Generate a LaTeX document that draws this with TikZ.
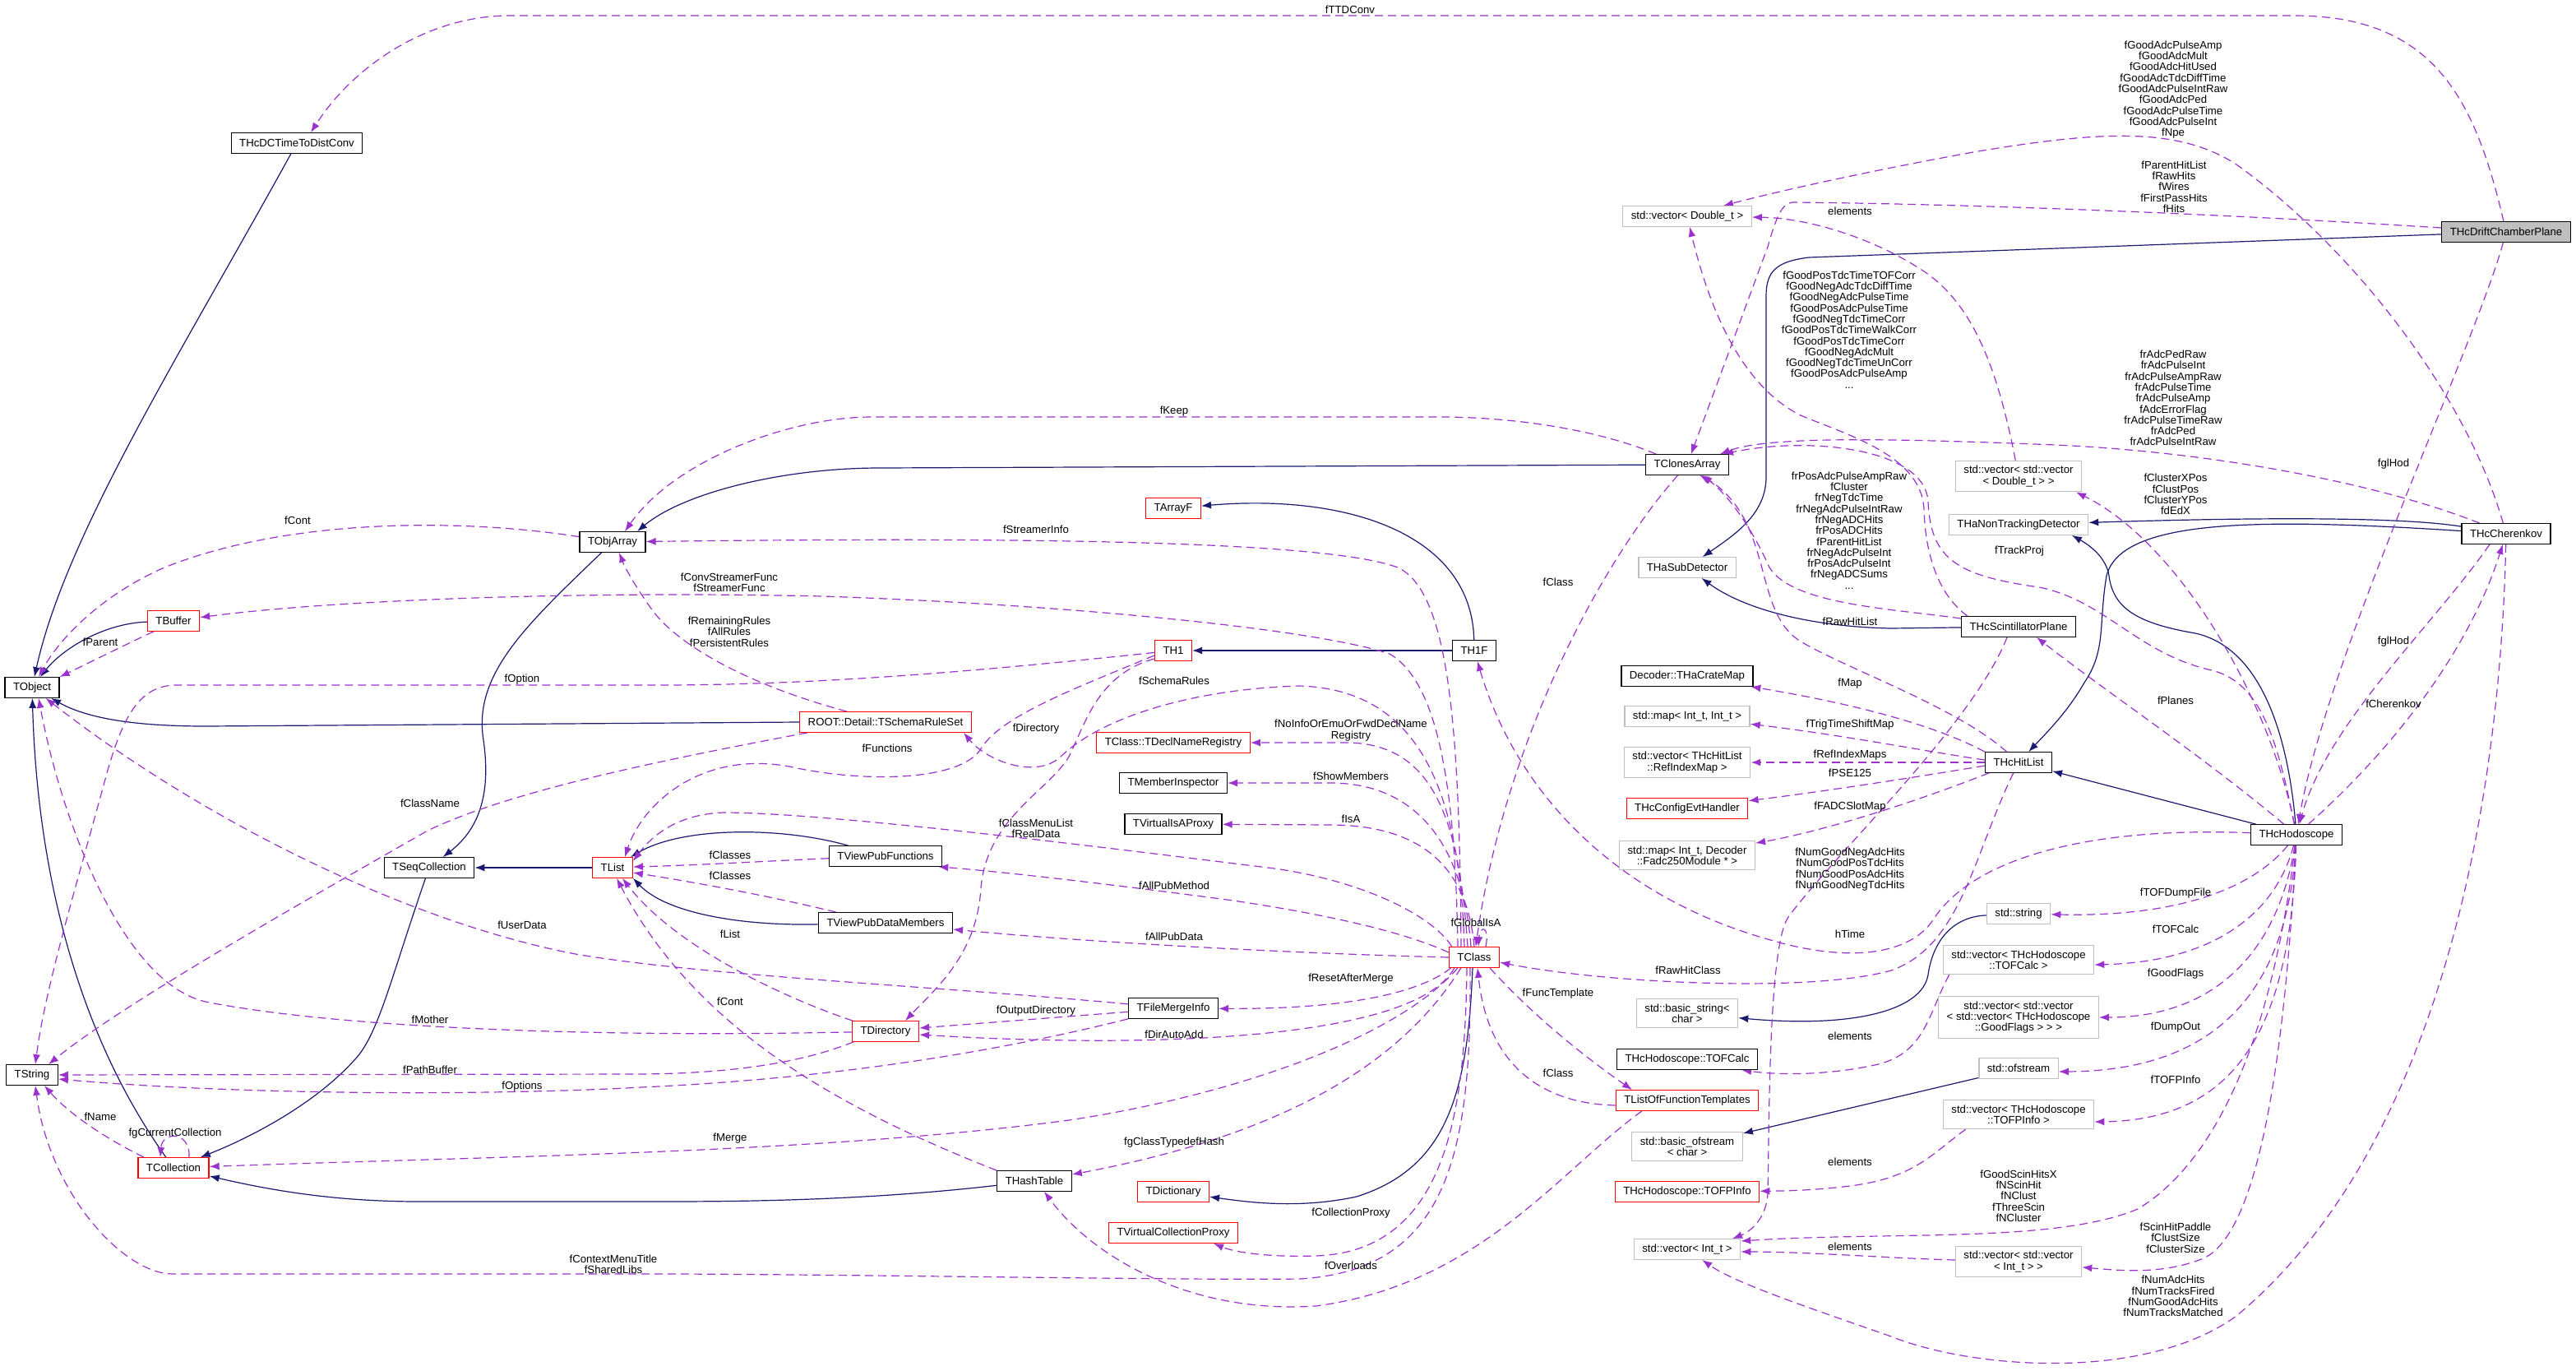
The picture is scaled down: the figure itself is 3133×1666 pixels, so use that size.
\documentclass[tikz,border=0pt]{standalone}
\usepackage{fontspec}
\setmainfont{Liberation Sans}
\usetikzlibrary{arrows.meta}
\pgfdeclarelayer{bglayer}
\pgfdeclarelayer{edgelayer}
\pgfsetlayers{bglayer,edgelayer,main}
\definecolor{edgeblue}{HTML}{191970}
\definecolor{edgepurple}{HTML}{9A32CD}
\definecolor{boxgray}{HTML}{BFBFBF}
\begin{document}
\begin{tikzpicture}[x=1pt,y=-1pt,
  box/.style={draw, line width=1.3pt, fill=white, inner xsep=10pt, inner ysep=6pt, minimum height=24.5pt, align=center, font=\fontsize{13.2}{13.3}\selectfont},
  bbox/.style={box, draw=black},
  rbox/.style={box, draw=red},
  gbox/.style={box, draw=boxgray},
  inhedge/.style={draw=edgeblue, line width=1.2pt, -{Latex[length=12pt,width=9pt]}},
  useedge/.style={draw=edgepurple, line width=1.2pt, dash pattern=on 10pt off 6pt, -{Latex[length=12pt,width=9pt]}},
  lbl/.style={align=center, inner sep=0pt, font=\fontsize{13.2}{13.3}\selectfont}]
\begin{pgfonlayer}{bglayer}
\fill[white] (0,0) rectangle (3133,1666);
\end{pgfonlayer}
\useasboundingbox (0,0) rectangle (3133,1666);

% ---------------- nodes ----------------
\node[bbox] (dcconv) at (361,174) {THcDCTimeToDistConv};
\node[bbox] (tobject) at (39,836) {TObject};
\node[rbox] (tbuffer) at (211,755) {TBuffer};
\node[bbox] (tobjarray) at (745,659) {TObjArray};
\node[bbox] (tseqcoll) at (522,1055) {TSeqCollection};
\node[rbox] (tlist) at (745,1055) {TList};
\node[rbox] (tarrayf) at (1427,618) {TArrayF};
\node[rbox] (th1) at (1427,791) {TH1};
\node[rbox] (schema) at (1077,878) {ROOT::Detail::TSchemaRuleSet};
\node[rbox] (declreg) at (1427,903) {TClass::TDeclNameRegistry};
\node[bbox] (meminsp) at (1427,952) {TMemberInspector};
\node[bbox] (isaproxy) at (1427,1002) {TVirtualIsAProxy};
\node[bbox] (vpubfunc) at (1077,1041) {TViewPubFunctions};
\node[bbox] (vpubdm) at (1077,1122) {TViewPubDataMembers};
\node[gbox] (vecdbl) at (2052,263) {std::vector< Double\_t >};
\node[bbox] (tclones) at (2052,565) {TClonesArray};
\node[gbox] (thasub) at (2052,690) {THaSubDetector};
\node[bbox] (th1f) at (1793,791) {TH1F};
\node[bbox] (cratemap) at (2052,822) {Decoder::THaCrateMap};
\node[gbox] (mapii) at (2052,871) {std::map< Int\_t, Int\_t >};
\node[gbox] (vecref) at (2052,927) {std::vector< THcHitList\\::RefIndexMap >};
\node[rbox] (cfgevt) at (2052,983) {THcConfigEvtHandler};
\node[gbox] (mapfadc) at (2052,1040) {std::map< Int\_t, Decoder\\::Fadc250Module * >};
\node[rbox] (tclass) at (1793,1164) {TClass};
\node[gbox] (bstring) at (2052,1232) {std::basic\_string<\\char >};
\node[bbox] (tofcalc) at (2052,1288) {THcHodoscope::TOFCalc};
\node[rbox] (tlistft) at (2052,1338) {TListOfFunctionTemplates};
\node[gbox] (bofstream) at (2052,1394) {std::basic\_ofstream\\< char >};
\node[rbox] (tofpinfo) at (2052,1449) {THcHodoscope::TOFPInfo};
\node[gbox] (vecint) at (2052,1519) {std::vector< Int\_t >};
\node[rbox] (tdirectory) at (1077,1254) {TDirectory};
\node[bbox] (tfmi) at (1427,1226) {TFileMergeInfo};
\node[bbox] (thash) at (1258,1436) {THashTable};
\node[rbox] (tdict) at (1427,1449) {TDictionary};
\node[rbox] (tvcp) at (1427,1499) {TVirtualCollectionProxy};
\node[bbox] (tstring) at (39,1307) {TString};
\node[rbox] (tcoll) at (211,1420) {TCollection};
\node[bbox, fill=boxgray] (dcplane) at (3048,282) {THcDriftChamberPlane};
\node[gbox] (vecvecdbl) at (2455,579) {std::vector< std::vector\\< Double\_t > >};
\node[gbox] (thanontrk) at (2455,638) {THaNonTrackingDetector};
\node[bbox] (cherenkov) at (3048,649) {THcCherenkov};
\node[bbox] (scint) at (2455,762) {THcScintillatorPlane};
\node[bbox] (hitlist) at (2455,927) {THcHitList};
\node[bbox] (hodo) at (2793,1015) {THcHodoscope};
\node[gbox] (stdstring) at (2455,1111) {std::string};
\node[gbox] (vectofcalc) at (2455,1167) {std::vector< THcHodoscope\\::TOFCalc >};
\node[gbox] (vecgood) at (2455,1237) {std::vector< std::vector\\< std::vector< THcHodoscope\\::GoodFlags > > >};
\node[gbox] (ofstream) at (2455,1299) {std::ofstream};
\node[gbox] (vectofp) at (2455,1355) {std::vector< THcHodoscope\\::TOFPInfo >};
\node[gbox] (vecvecint) at (2455,1534) {std::vector< std::vector\\< Int\_t > >};

\begin{pgfonlayer}{edgelayer}
% ---------------- inheritance (solid) ----------------
\draw[inhedge] (dcconv) .. controls (220,430) and (80,650) .. (tobject);
\draw[inhedge] (tbuffer) .. controls (125,758) and (75,790) .. (tobject);
\draw[inhedge] (schema.west) -- (250,883) .. controls (150,883) and (100,870) .. (tobject);
\draw[inhedge] (tcoll) .. controls (90,1250) and (45,1050) .. (tobject);
\draw[inhedge] (tobjarray) .. controls (640,760) and (575,820) .. (588,900) .. controls (598,970) and (580,1010) .. (tseqcoll);
\draw[inhedge] (tlist) -- (tseqcoll);
\draw[inhedge] (tseqcoll) .. controls (475,1190) and (460,1260) .. (430,1290) .. controls (380,1345) and (300,1385) .. (tcoll);
\draw[inhedge] (tclones) -- (1070,569) .. controls (950,569) and (830,600) .. ([xshift=30pt]tobjarray.north);
\draw[inhedge] (th1f) .. controls (1790,650) and (1640,600) .. (tarrayf);
\draw[inhedge] (th1f) -- (th1);
\draw[inhedge] (vpubfunc) .. controls (950,1005) and (830,1005) .. (tlist);
\draw[inhedge] (vpubdm) .. controls (900,1126) and (810,1110) .. (tlist.south east);
\draw[inhedge] (thash) .. controls (1050,1460) and (900,1461) .. (800,1461) -- (510,1461) .. controls (400,1461) and (320,1445) .. (tcoll);
\draw[inhedge] ([xshift=-2pt]tclass.south) .. controls (1785,1330) and (1760,1420) .. (1650,1455) .. controls (1580,1470) and (1520,1462) .. (tdict);
\draw[inhedge] (dcplane) -- (2200,313) .. controls (2160,318) and (2148,330) .. (2148,360) -- (2148,580) .. controls (2148,625) and (2110,650) .. (thasub);
\draw[inhedge] (scint) -- (2300,764) .. controls (2200,762) and (2120,740) .. (thasub);
\draw[inhedge] (cherenkov) .. controls (2900,625) and (2650,632) .. (thanontrk);
\draw[inhedge] (cherenkov) .. controls (2750,630) and (2580,630) .. (2562,700) .. controls (2552,760) and (2562,790) .. (2535,830) .. controls (2515,865) and (2490,890) .. (hitlist);
\draw[inhedge] (hodo) .. controls (2785,920) and (2760,790) .. (2670,770) .. controls (2600,758) and (2570,740) .. (2565,700) .. controls (2562,680) and (2545,665) .. ([xshift=65pt]thanontrk.south);
\draw[inhedge] (hodo) -- (hitlist);
\draw[inhedge] (stdstring) .. controls (2370,1115) and (2350,1150) .. (2345,1185) .. controls (2338,1230) and (2250,1250) .. (bstring);
\draw[inhedge] (ofstream) -- (bofstream);

% ---------------- usage (dashed) ----------------
\draw[useedge] (dcplane) .. controls (3010,120) and (2960,19) .. (2790,19) -- (620,19) .. controls (520,19) and (430,80) .. ([xshift=17pt]dcconv.north);
\draw[useedge] (dcplane) .. controls (2700,260) and (2400,248) .. (2180,246) .. controls (2167,247) and (2160,265) .. (2150,300) -- (tclones);
\draw[useedge] (cherenkov) .. controls (3000,480) and (2860,300) .. (2720,200) .. controls (2650,155) and (2560,158) .. (2400,185) .. controls (2300,203) and (2180,228) .. ([xshift=44pt]vecdbl.north);
\draw[useedge] (vecvecdbl) .. controls (2430,450) and (2400,370) .. (2340,330) .. controls (2280,290) and (2200,265) .. (vecdbl);
\draw[useedge] ([xshift=8pt]scint.north west) .. controls (2360,725) and (2342,680) .. (2340,620) .. controls (2338,555) and (2250,530) .. (2190,505) .. controls (2120,470) and (2080,380) .. (vecdbl);
\draw[useedge] (hodo) .. controls (2770,900) and (2750,830) .. (2690,815) .. controls (2600,795) and (2560,730) .. (2480,714) .. controls (2380,700) and (2348,680) .. (2345,610) .. controls (2342,545) and (2200,530) .. ([xshift=44pt]tclones.north);
\draw[useedge] (cherenkov) .. controls (2900,590) and (2700,550) .. (2500,541) .. controls (2300,533) and (2150,530) .. ([xshift=40pt]tclones.north);
\draw[useedge] ([yshift=10pt]scint.west) .. controls (2300,740) and (2180,735) .. (2152,690) .. controls (2130,640) and (2100,600) .. ([xshift=18pt]tclones.south);
\draw[useedge] (hitlist) .. controls (2380,860) and (2250,815) .. (2190,780) .. controls (2150,755) and (2150,700) .. (2130,650) .. controls (2115,610) and (2090,590) .. ([xshift=15pt]tclones.south);
\draw[useedge] (dcplane) .. controls (3010,420) and (2830,800) .. (hodo);
\draw[useedge] ([xshift=-20pt]cherenkov.south) .. controls (2960,760) and (2830,880) .. (hodo);
\draw[useedge] (hodo) .. controls (2900,920) and (3000,800) .. (cherenkov);
\draw[useedge] (cherenkov) .. controls (3040,1000) and (2960,1400) .. (2720,1600) .. controls (2610,1680) and (2400,1665) .. (2300,1625) .. controls (2200,1590) and (2110,1560) .. (vecint);
\draw[useedge] (hodo) .. controls (2765,1250) and (2700,1410) .. (2600,1470) .. controls (2500,1512) and (2300,1497) .. ([yshift=10pt]vecint.east);
\draw[useedge] (vecvecint) .. controls (2300,1530) and (2200,1522) .. ([yshift=-3pt]vecint.east);
\draw[useedge] (hodo) .. controls (2778,1300) and (2745,1500) .. (2680,1530) .. controls (2630,1550) and (2580,1545) .. (vecvecint);
\draw[useedge] (hodo) .. controls (2740,1080) and (2650,1115) .. (stdstring);
\draw[useedge] (hodo) .. controls (2765,1120) and (2680,1170) .. ([yshift=-6pt]vectofcalc.east);
\draw[useedge] (hodo) .. controls (2772,1150) and (2700,1237) .. (vecgood);
\draw[useedge] (hodo) .. controls (2782,1200) and (2700,1302) .. ([yshift=-4pt]ofstream.east);
\draw[useedge] (hodo) .. controls (2786,1250) and (2720,1362) .. ([yshift=-9pt]vectofp.east);
\draw[useedge] (hodo) .. controls (2680,920) and (2560,840) .. ([xshift=22pt]scint.south);
\draw[useedge] (hodo) .. controls (2760,850) and (2650,660) .. ([xshift=70pt]vecvecdbl.south);
\draw[useedge] (hitlist.north west) .. controls (2350,880) and (2250,855) .. (cratemap);
\draw[useedge] ([yshift=3pt]hitlist.west) .. controls (2350,915) and (2250,895) .. (mapii);
\draw[useedge, line width=2.2pt] (hitlist) -- (vecref);
\draw[useedge] ([yshift=-4pt]hitlist.west) .. controls (2330,945) and (2220,962) .. (cfgevt);
\draw[useedge] ([xshift=5pt]hitlist.south west) .. controls (2330,975) and (2220,1010) .. (mapfadc);
\draw[useedge] ([xshift=-14pt]scint.south) .. controls (2400,880) and (2230,1040) .. (2175,1115) .. controls (2150,1150) and (2152,1380) .. (2150,1450) .. controls (2149,1480) and (2130,1497) .. ([xshift=55pt]vecint.north);
\draw[useedge] (hodo) .. controls (2550,1005) and (2400,1040) .. (2350,1120) .. controls (2322,1160) and (2250,1172) .. (2150,1142) .. controls (1950,1085) and (1840,950) .. (th1f);
\draw[useedge] (hitlist) .. controls (2400,1040) and (2385,1150) .. (2300,1180) .. controls (2200,1208) and (1950,1195) .. (tclass);
\draw[useedge] (tclones) .. controls (1950,680) and (1830,900) .. (tclass);
\draw[useedge] ([xshift=14pt]tclass.north) .. controls (1812,1125) and (1800,1125) .. ([xshift=5pt]tclass.north);
\draw[useedge] ([xshift=-20pt]tclass.north) .. controls (1770,960) and (1750,830) .. (1690,795) .. controls (1600,765) and (1300,735) .. (1000,725) .. controls (700,718) and (400,730) .. (tbuffer);
\draw[useedge] ([xshift=-16pt]tclass.north) .. controls (1775,900) and (1765,720) .. (1700,690) .. controls (1620,660) and (1300,652) .. (tobjarray);
\draw[useedge] ([xshift=-12pt]tclass.north) .. controls (1775,950) and (1720,838) .. (1580,834) .. controls (1450,838) and (1340,872) .. (1290,920) .. controls (1260,948) and (1200,925) .. ([xshift=95pt]schema.south);
\draw[useedge] ([xshift=-8pt]tclass.north) .. controls (1775,1000) and (1745,905) .. (1640,903) -- (declreg);
\draw[useedge] ([xshift=-4pt]tclass.north) .. controls (1780,1030) and (1725,953) .. (1620,952) -- (meminsp);
\draw[useedge] (tclass.north) .. controls (1785,1060) and (1735,1004) .. (1620,1003) -- (isaproxy);
\draw[useedge] ([xshift=4pt]tclass.north west) .. controls (1740,1110) and (1650,1070) .. (1550,1056) .. controls (1300,1025) and (1000,988) .. (880,988) .. controls (820,990) and (790,1020) .. ([yshift=8pt]tlist.east);
\draw[useedge] ([yshift=6pt]tclass.west) .. controls (1700,1130) and (1600,1110) .. (1500,1095) .. controls (1350,1075) and (1220,1060) .. ([xshift=-5pt]vpubfunc.south east);
\draw[useedge] (tclass.west) .. controls (1600,1160) and (1350,1148) .. ([yshift=-8pt]vpubdm.east);
\draw[useedge] ([xshift=3pt]tclass.south west) .. controls (1720,1212) and (1620,1227) .. (tfmi);
\draw[useedge] ([xshift=7pt]tclass.south west) .. controls (1720,1265) and (1400,1275) .. ([yshift=-4pt]tdirectory.east);
\draw[useedge] (tfmi) -- ([yshift=4pt]tdirectory.east);
\draw[useedge] ([xshift=11pt]tclass.south west) .. controls (1700,1262) and (1500,1332) .. (1300,1362) .. controls (1000,1402) and (600,1406) .. (tcoll);
\draw[useedge] ([xshift=15pt]tclass.south west) .. controls (1700,1300) and (1550,1382) .. ([yshift=8pt]thash.east);
\draw[useedge] ([xshift=-9pt]tclass.south) .. controls (1782,1350) and (1760,1522) .. (1600,1527) .. controls (1540,1529) and (1500,1522) .. ([xshift=-30pt]tvcp.south east);
\draw[useedge] ([xshift=-5pt]tclass.south) .. controls (1790,1400) and (1762,1545) .. (1580,1555) .. controls (1450,1557) and (1000,1549) .. (800,1549) -- (210,1549) .. controls (150,1549) and (60,1450) .. ([xshift=4pt]tstring.south);
\draw[useedge] ([xshift=-55pt]tlistft.south) .. controls (1900,1420) and (1800,1562) .. (1600,1588) .. controls (1450,1598) and (1330,1530) .. ([xshift=12pt]thash.south);
\draw[useedge] ([xshift=19pt]tclass.south) .. controls (1860,1230) and (1920,1280) .. ([xshift=-67pt]tlistft.north);
\draw[useedge] ([yshift=-6pt]tlistft.west) .. controls (1880,1342) and (1810,1300) .. ([xshift=4pt]tclass.south);
\draw[useedge] ([xshift=-36pt]tcoll.north) .. controls (120,1380) and (80,1350) .. ([xshift=15pt]tstring.south);
\draw[useedge] ([xshift=19pt]tcoll.north) .. controls (232,1375) and (197,1375) .. ([xshift=-16pt]tcoll.north);
\draw[useedge] ([xshift=-39pt]tdirectory.south) .. controls (980,1290) and (900,1305) .. (780,1306) -- (tstring);
\draw[useedge] (tfmi.south west) .. controls (1200,1282) and (1000,1312) .. (780,1322) .. controls (600,1332) and (300,1332) .. ([yshift=-5pt]tstring.east);
\draw[useedge] (tfmi) .. controls (1150,1200) and (850,1186) .. (700,1160) .. controls (500,1122) and (250,1000) .. (tobject);
\draw[useedge] (tdirectory) .. controls (700,1262) and (400,1248) .. (250,1218) .. controls (150,1195) and (75,1000) .. ([xshift=8pt]tobject.south);
\draw[useedge] (th1) .. controls (1200,815) and (1000,833) .. (800,833) -- (215,833) .. controls (170,833) and (150,870) .. (130,940) .. controls (95,1070) and (55,1200) .. ([xshift=4pt]tstring.north);
\draw[useedge] ([xshift=-95pt]schema.south) .. controls (800,925) and (620,962) .. (520,1010) .. controls (380,1090) and (150,1220) .. ([xshift=20pt]tstring.north);
\draw[useedge] (tobjarray) .. controls (560,630) and (350,630) .. (200,690) .. controls (120,725) and (70,780) .. ([xshift=8pt]tobject.north);
\draw[useedge] ([xshift=8pt]tbuffer.south west) .. controls (150,785) and (110,805) .. (tobject.north east);
\draw[useedge] ([xshift=-38pt]tclones.north) .. controls (1950,525) and (1850,507) .. (1750,507) -- (1060,507) .. controls (960,507) and (820,560) .. ([xshift=15pt]tobjarray.north);
\draw[useedge] ([xshift=-47pt]schema.north) .. controls (900,830) and (820,780) .. (792,740) .. controls (772,712) and (760,690) .. ([xshift=8pt]tobjarray.south);
\draw[useedge] ([yshift=-6pt]th1.west) .. controls (1300,840) and (1215,872) .. (1192,912) .. controls (1165,950) and (1050,952) .. (960,932) .. controls (850,912) and (780,980) .. ([xshift=15pt]tlist.north);
\draw[useedge] ([yshift=-10pt]th1.west) .. controls (1335,820) and (1320,880) .. (1300,920) .. controls (1275,962) and (1200,995) .. (1193,1080) .. controls (1188,1160) and (1140,1200) .. ([xshift=24pt]tdirectory.north);
\draw[useedge] (vpubfunc) .. controls (950,1046) and (850,1052) .. ([yshift=1pt]tlist.east);
\draw[useedge] ([xshift=-60pt]vpubdm.north) .. controls (930,1088) and (840,1072) .. ([yshift=-6pt]tlist.east);
\draw[useedge] ([xshift=-40pt]tdirectory.north) .. controls (950,1212) and (820,1150) .. ([xshift=12pt]tlist.south);
\draw[useedge] (thash.north west) .. controls (1000,1340) and (840,1240) .. ([xshift=5pt]tlist.south);
\draw[useedge] ([xshift=8pt]vectofcalc.south west) .. controls (2345,1232) and (2342,1282) .. (2280,1295) .. controls (2220,1308) and (2160,1307) .. ([xshift=-20pt]tofcalc.south east);
\draw[useedge] ([xshift=28pt]vectofp.south west) .. controls (2350,1402) and (2330,1432) .. (2250,1442) .. controls (2210,1447) and (2175,1448) .. (tofpinfo);
\end{pgfonlayer}

% ---------------- labels ----------------
\node[lbl] (l1) at (1642,12) {fTTDConv};
\node[lbl] (l2) at (1428,500) {fKeep};
\node[lbl] (l3) at (2643,109) {fGoodAdcPulseAmp\\fGoodAdcMult\\fGoodAdcHitUsed\\fGoodAdcTdcDiffTime\\fGoodAdcPulseIntRaw\\fGoodAdcPed\\fGoodAdcPulseTime\\fGoodAdcPulseInt\\fNpe};
\node[lbl] (l4) at (2644,227) {fParentHitList\\fRawHits\\fWires\\fFirstPassHits\\fHits};
\node[lbl] (l5) at (2250,257) {elements};
\node[lbl] (l6) at (2249,401) {fGoodPosTdcTimeTOFCorr\\fGoodNegAdcTdcDiffTime\\fGoodNegAdcPulseTime\\fGoodPosAdcPulseTime\\fGoodNegTdcTimeCorr\\fGoodPosTdcTimeWalkCorr\\fGoodPosTdcTimeCorr\\fGoodNegAdcMult\\fGoodNegTdcTimeUnCorr\\fGoodPosAdcPulseAmp\\...};
\node[lbl] (l7) at (2643,484) {frAdcPedRaw\\frAdcPulseInt\\frAdcPulseAmpRaw\\frAdcPulseTime\\frAdcPulseAmp\\fAdcErrorFlag\\frAdcPulseTimeRaw\\frAdcPed\\frAdcPulseIntRaw};
\node[lbl] (l8) at (2911,564) {fglHod};
\node[lbl] (l9) at (2646,601) {fClusterXPos\\fClustPos\\fClusterYPos\\fdEdX};
\node[lbl] (l10) at (2456,670) {fTrackProj};
\node[lbl] (l11) at (2249,645) {frPosAdcPulseAmpRaw\\fCluster\\frNegTdcTime\\frNegAdcPulseIntRaw\\frNegADCHits\\frPosADCHits\\fParentHitList\\frNegAdcPulseInt\\frPosAdcPulseInt\\frNegADCSums\\...};
\node[lbl] (l12) at (2250,756) {fRawHitList};
\node[lbl] (l13) at (2911,780) {fglHod};
\node[lbl] (l14) at (2646,852) {fPlanes};
\node[lbl] (l15) at (2911,856) {fCherenkov};
\node[lbl] (l16) at (2250,831) {fMap};
\node[lbl] (l17) at (2250,881) {fTrigTimeShiftMap};
\node[lbl] (l18) at (2250,918) {fRefIndexMaps};
\node[lbl] (l19) at (2250,940) {fPSE125};
\node[lbl] (l20) at (2250,981) {fFADCSlotMap};
\node[lbl] (l21) at (2250,1057) {fNumGoodNegAdcHits\\fNumGoodPosTdcHits\\fNumGoodPosAdcHits\\fNumGoodNegTdcHits};
\node[lbl] (l22) at (2646,1086) {fTOFDumpFile};
\node[lbl] (l23) at (2646,1130) {fTOFCalc};
\node[lbl] (l24) at (2250,1136) {hTime};
\node[lbl] (l25) at (2053,1180) {fRawHitClass};
\node[lbl] (l26) at (2646,1184) {fGoodFlags};
\node[lbl] (l27) at (1895,1208) {fFuncTemplate};
\node[lbl] (l28) at (2646,1249) {fDumpOut};
\node[lbl] (l29) at (2250,1260) {elements};
\node[lbl] (l30) at (1895,1305) {fClass};
\node[lbl] (l31) at (2646,1313) {fTOFPInfo};
\node[lbl] (l32) at (2250,1413) {elements};
\node[lbl] (l33) at (2455,1454) {fGoodScinHitsX\\fNScinHit\\fNClust\\fThreeScin\\fNCluster};
\node[lbl] (l34) at (2646,1505) {fScinHitPaddle\\fClustSize\\fClusterSize};
\node[lbl] (l35) at (2250,1516) {elements};
\node[lbl] (l36) at (2643,1576) {fNumAdcHits\\fNumTracksFired\\fNumGoodAdcHits\\fNumTracksMatched};
\node[lbl] (l37) at (1895,708) {fClass};
\node[lbl] (l38) at (1795,1122) {fGlobalIsA};
\node[lbl] (l39) at (1643,888) {fNoInfoOrEmuOrFwdDeclName\\Registry};
\node[lbl] (l40) at (1643,944) {fShowMembers};
\node[lbl] (l41) at (1643,996) {fIsA};
\node[lbl] (l42) at (1643,1190) {fResetAfterMerge};
\node[lbl] (l43) at (1643,1475) {fCollectionProxy};
\node[lbl] (l44) at (1643,1539) {fOverloads};
\node[lbl] (l45) at (1260,644) {fStreamerInfo};
\node[lbl] (l46) at (887,708) {fConvStreamerFunc\\fStreamerFunc};
\node[lbl] (l47) at (887,768) {fRemainingRules\\fAllRules\\fPersistentRules};
\node[lbl] (l48) at (1428,828) {fSchemaRules};
\node[lbl] (l49) at (1260,886) {fDirectory};
\node[lbl] (l50) at (1079,910) {fFunctions};
\node[lbl] (l51) at (1260,1007) {fClassMenuList\\fRealData};
\node[lbl] (l52) at (888,1040) {fClasses};
\node[lbl] (l53) at (888,1065) {fClasses};
\node[lbl] (l54) at (1428,1077) {fAllPubMethod};
\node[lbl] (l55) at (888,1136) {fList};
\node[lbl] (l56) at (1428,1139) {fAllPubData};
\node[lbl] (l57) at (888,1218) {fCont};
\node[lbl] (l58) at (1260,1229) {fOutputDirectory};
\node[lbl] (l59) at (1428,1258) {fDirAutoAdd};
\node[lbl] (l60) at (888,1384) {fMerge};
\node[lbl] (l61) at (1428,1389) {fgClassTypedefHash};
\node[lbl] (l62) at (746,1537) {fContextMenuTitle\\fSharedLibs};
\node[lbl] (l63) at (362,633) {fCont};
\node[lbl] (l64) at (122,781) {fParent};
\node[lbl] (l65) at (635,826) {fOption};
\node[lbl] (l66) at (523,977) {fClassName};
\node[lbl] (l67) at (635,1125) {fUserData};
\node[lbl] (l68) at (523,1240) {fMother};
\node[lbl] (l69) at (523,1301) {fPathBuffer};
\node[lbl] (l70) at (635,1321) {fOptions};
\node[lbl] (l71) at (122,1358) {fName};
\node[lbl] (l72) at (213,1378) {fgCurrentCollection};
\end{tikzpicture}
\end{document}
